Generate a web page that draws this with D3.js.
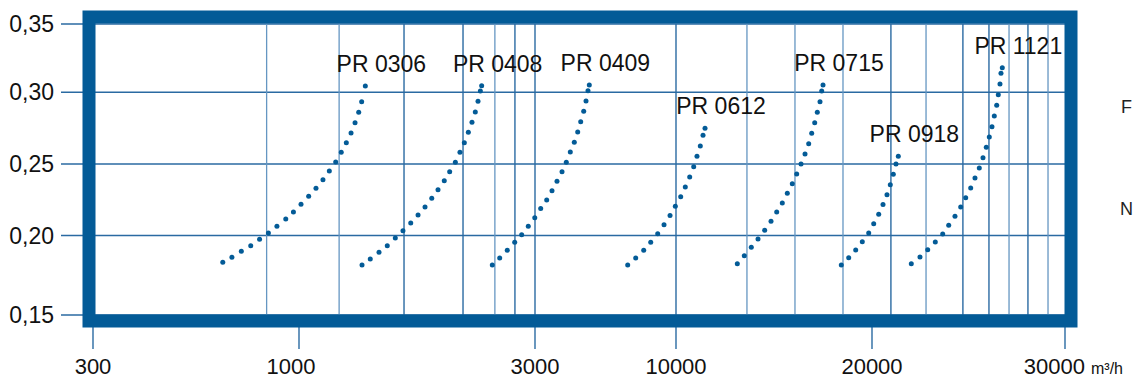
<!DOCTYPE html>
<html>
<head>
<meta charset="utf-8">
<script src="https://cdn.jsdelivr.net/npm/d3@7"></script>
<style>
  body { margin: 0; background: #fff; }
  svg { display: block; font-family: "Liberation Sans", Arial, sans-serif; }
</style>
</head>
<body>
<div id="chart"></div>
<script>
// axis ticks (the printed axis is not evenly spaced, so the scales are piecewise)
const xTicks = [300, 1000, 3000, 10000, 20000, 30000];
const yTicks = [0.15, 0.20, 0.25, 0.30, 0.35];
const xGridDark = [1890, 2390, 2830, 3000, 10000, 20980, 24710, 26060, 28080];
const xGridLight = [890, 1340, 2660, 13620, 16070, 18520, 22800, 27100, 29120];

// fan curves: [flow m3/h, pressure]
const pr0306 = [[741,.1831],[772,.1863],[804,.1901],[836,.1936],[866,.1976],[896,.2018],[925,.2065],[955,.2116],[981,.2164],[1017,.2218],[1082,.2274],[1144,.2330],[1203,.2390],[1257,.2451],[1311,.2514],[1358,.2582],[1401,.2649],[1441,.2716],[1475,.2788],[1506,.2861],[1531,.2934],[1562,.3046]];
const pr0408 = [[1534,.1814],[1604,.1852],[1678,.1894],[1748,.1936],[1816,.1984],[1881,.2034],[1947,.2088],[2009,.2144],[2068,.2199],[2125,.2260],[2178,.2320],[2231,.2383],[2277,.2446],[2325,.2512],[2364,.2582],[2401,.2649],[2435,.2721],[2466,.2791],[2494,.2863],[2517,.2937],[2537,.3010],[2548,.3048]];
const pr0409 = [[2638,.1814],[2701,.1858],[2765,.1907],[2828,.1957],[2887,.2006],[2943,.2065],[2998,.2125],[3283,.2188],[3581,.2248],[3844,.2313],[4092,.2379],[4341,.2446],[4554,.2512],[4753,.2584],[4951,.2652],[5120,.2723],[5269,.2795],[5418,.2868],[5532,.2939],[5631,.3012],[5696,.3053]];
const pr0612 = [[7603,.1814],[7999,.1858],[8397,.1907],[8745,.1957],[9092,.2013],[9405,.2076],[9703,.2139],[9966,.2204],[10240,.2271],[10474,.2339],[10699,.2409],[10903,.2481],[11071,.2554],[11240,.2626],[11378,.2700],[11480,.2749]];
const pr0715 = [[13128,.1823],[13485,.1873],[13842,.1926],[14184,.1978],[14525,.2037],[14847,.2099],[15138,.2164],[15423,.2227],[15679,.2295],[15934,.2362],[16158,.2430],[16378,.2500],[16582,.2570],[16770,.2642],[16923,.2714],[17077,.2788],[17209,.2861],[17347,.2934],[17434,.3010],[17500,.3053]];
const pr0918 = [[18434,.1814],[18811,.1860],[19168,.1909],[19505,.1961],[19832,.2018],[20088,.2083],[20347,.2148],[20570,.2216],[20777,.2285],[20948,.2355],[21104,.2428],[21243,.2500],[21363,.2554]];
const pr1121 = [[22036,.1823],[22487,.1865],[22886,.1911],[23280,.1959],[23663,.2011],[23974,.2072],[24300,.2134],[24596,.2199],[24855,.2264],[25114,.2332],[25336,.2402],[25559,.2472],[25751,.2544],[25922,.2617],[26077,.2688],[26217,.2760],[26336,.2835],[26461,.2909],[26544,.2983],[26632,.3061],[26683,.3139],[26751,.3180]];

const seriesNames = ["PR 0306", "PR 0408", "PR 0409", "PR 0612", "PR 0715", "PR 0918", "PR 1121"];
const seriesData = [pr0306, pr0408, pr0409, pr0612, pr0715, pr0918, pr1121];

const width = 1135, height = 380;
const blue = "#035b97";
const gridDark = "#2a6aa2";
const gridLight = "#6596c2";

const svg = d3.select("#chart").append("svg")
    .attr("width", width)
    .attr("height", height);

const x = d3.scaleLinear().domain(xTicks).range([93, 299, 535, 676, 872, 1065]);
const y = d3.scaleLinear().domain(yTicks).range([315, 235.5, 164, 92.3, 24]);

// horizontal grid, also sticking out to the left as tick marks
svg.append("g")
    .selectAll("line")
    .data(yTicks)
    .enter()
    .append("line")
    .attr("x1", 61).attr("x2", 1065)
    .attr("y1", d => y(d)).attr("y2", d => y(d))
    .attr("stroke", gridDark)
    .attr("stroke-width", 1.4);

// vertical grid
svg.append("g")
    .selectAll("line")
    .data(xGridLight)
    .enter()
    .append("line")
    .attr("x1", d => x(d)).attr("x2", d => x(d))
    .attr("y1", 24).attr("y2", 315)
    .attr("stroke", gridLight)
    .attr("stroke-width", 1.3);

svg.append("g")
    .selectAll("line")
    .data(xGridDark)
    .enter()
    .append("line")
    .attr("x1", d => x(d)).attr("x2", d => x(d))
    .attr("y1", 24).attr("y2", 315)
    .attr("stroke", gridDark)
    .attr("stroke-width", 1.4);

// x tick marks below the frame
svg.append("g")
    .selectAll("line")
    .data(xTicks)
    .enter()
    .append("line")
    .attr("x1", d => x(d)).attr("x2", d => x(d))
    .attr("y1", 320).attr("y2", 349)
    .attr("stroke", gridDark)
    .attr("stroke-width", 1.4);

// thick frame
svg.append("rect")
    .attr("x", 89).attr("y", 17)
    .attr("width", 982).attr("height", 304)
    .attr("fill", "none")
    .attr("stroke", blue)
    .attr("stroke-width", 13);

// y labels
svg.append("g")
    .selectAll("text")
    .data(yTicks)
    .enter()
    .append("text")
    .attr("x", 54)
    .attr("y", d => y(d) + 8)
    .attr("text-anchor", "end")
    .attr("font-size", 23)
    .attr("fill", "#111")
    .text(d => d3.format(".2f")(d).replace(".", ","));

// x labels
const xl = svg.append("g");
xl.selectAll("text")
    .data(xTicks)
    .enter()
    .append("text")
    .attr("x", (d, i) => i === xTicks.length - 1 ? x(d) + 20 : (d === 1000 ? x(d) - 8 : x(d)))
    .attr("y", 374)
    .attr("text-anchor", (d, i) => i === xTicks.length - 1 ? "end" : "middle")
    .attr("font-size", 22)
    .attr("fill", "#111")
    .text(d => d);

xl.append("text")
    .attr("x", x(30000) + 26)
    .attr("y", 374)
    .attr("font-size", 16)
    .attr("fill", "#111")
    .text("m³/h");

// dotted curves
const curves = svg.append("g");
seriesData.forEach((pts, i) => {
    curves.append("g")
        .selectAll("circle")
        .data(pts)
        .enter()
        .append("circle")
        .attr("cx", d => x(d[0]))
        .attr("cy", d => y(d[1]))
        .attr("r", 2.5)
        .attr("fill", blue);

    const last = pts[pts.length - 1];
    curves.append("text")
        .attr("x", x(last[0]) + 16)
        .attr("y", y(last[1]) - 14)
        .attr("text-anchor", "middle")
        .attr("font-size", 23)
        .attr("fill", "#111")
        .text(seriesNames[i]);
});

// letters at the right edge of the picture
svg.append("text").attr("x", 1121).attr("y", 113)
    .attr("font-size", 18).attr("fill", "#222").text("F");
svg.append("text").attr("x", 1120).attr("y", 215)
    .attr("font-size", 18).attr("fill", "#222").text("N");
</script>
</body>
</html>
